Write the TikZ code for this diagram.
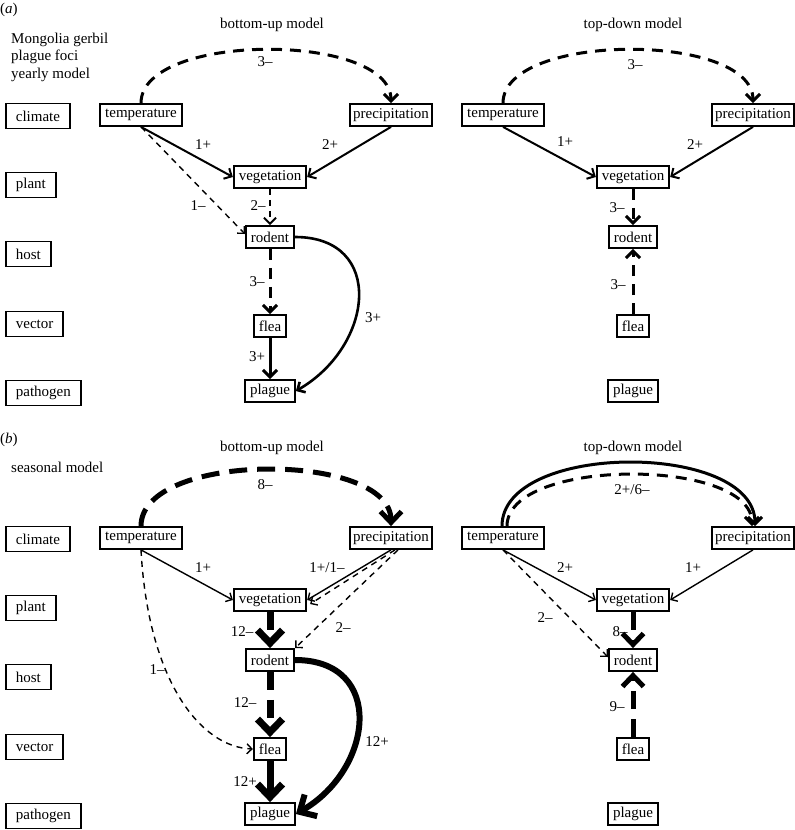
\documentclass[tikz,border=0pt]{standalone}
\usepackage{fontspec}
\setmainfont{Liberation Serif}
\usetikzlibrary{arrows.meta}

\tikzstyle{box}=[draw, line width=1.8pt, inner xsep=5pt, inner ysep=2pt, minimum height=22pt, fill=white]
\tikzstyle{pbox}=[box, inner xsep=3pt]
\tikzstyle{level}=[box, anchor=west, inner xsep=10pt, minimum height=25pt]
\tikzstyle{lab}=[inner sep=1pt]
\tikzstyle{w1}=[line width=1.4pt, -{Straight Barb[length=5pt,width=10pt]}]
\tikzstyle{w2}=[line width=2pt, -{Straight Barb[length=6pt,width=12pt]}]
\tikzstyle{w3}=[line width=3pt, -{Straight Barb[length=7pt,width=14pt]}]
\tikzstyle{w8}=[line width=5pt, -{Straight Barb[length=11pt,width=21pt]}]
\tikzstyle{w12}=[line width=7pt, -{Straight Barb[length=13pt,width=25pt]}]
\tikzstyle{neg1}=[dash pattern=on 6pt off 5pt]
\tikzstyle{neg3}=[dash pattern=on 11pt off 8pt]
\tikzstyle{neg8}=[dash pattern=on 18pt off 10pt]

\begin{document}
\begin{tikzpicture}[x=1pt, y=-1pt, every node/.style={font=\fontsize{15}{17.5}\selectfont}]
\useasboundingbox (0,0) rectangle (795,830);

% headings
\node[anchor=west, inner sep=0pt] (pa) at (0,10) {(\textit{a})};
\node[anchor=west, inner sep=0pt] (pb) at (0,440) {(\textit{b})};
\node (hd1) at (272,25) {bottom-up model};
\node (hd2) at (633,25) {top-down model};
\node (hd3) at (272,448) {bottom-up model};
\node (hd4) at (633,448) {top-down model};
\node[anchor=west, align=left, inner sep=0pt] (yearly) at (11,57) {Mongolia gerbil\\plague foci\\yearly model};
\node[anchor=west, inner sep=0pt] (seasonal) at (11,467) {seasonal model};

\foreach \lvl/\y in {climate/116, plant/185, host/254, vector/324, pathogen/393} {
  \node[level] (\lvl1) at (5,\y) {\lvl};
  \node[level] (\lvl2) at (5,\y+423) {\lvl};
}

% (a) bottom-up
\node[box] (t1) at (141,115) {temperature};
\node[pbox] (p1) at (391,115) {precipitation};
\node[box] (v1) at (270,177) {vegetation};
\node[box] (r1) at (270,237) {rodent};
\node[box] (f1) at (270,326) {flea};
\node[box] (q1) at (270,391) {plague};

\draw[w3,neg3] (t1.north) to[out=90,in=90,looseness=.73] (p1.north);
\draw[w2] (t1.south) -- (v1.west);
\draw[w2] (p1.south) -- (v1.east);
\draw[w1,neg1] (t1.south) -- ([yshift=3pt]r1.west);
\draw[w2,neg1] (v1) -- (r1);
\draw[w3,neg3] (r1) -- (f1);
\draw[w3] (f1) -- (q1);
\draw[w2, line width=2.6pt] (r1.east) to[out=0,in=30,looseness=1.5] (q1.east);

\node[lab] (a1) at (265,62) {3–};
\node[lab] (a2) at (203,145) {1+};
\node[lab] (a3) at (330,145) {2+};
\node[lab] (a4) at (198,206) {1–};
\node[lab] (a5) at (258,206) {2–};
\node[lab] (a6) at (257,282) {3–};
\node[lab] (a7) at (257,357) {3+};
\node[lab] (a8) at (373,318) {3+};

% (a) top-down
\node[box] (t2) at (503,115) {temperature};
\node[pbox] (p2) at (753,115) {precipitation};
\node[box] (v2) at (633,177) {vegetation};
\node[box] (r2) at (633,237) {rodent};
\node[box] (f2) at (633,326) {flea};
\node[box] (q2) at (633,391) {plague};

\draw[w3,neg3] (t2.north) to[out=90,in=90,looseness=.73] (p2.north);
\draw[w2] (t2.south) -- (v2.west);
\draw[w2] (p2.south) -- (v2.east);
\draw[w3,neg3] (v2) -- (r2);
\draw[w3,neg3] (f2) -- (r2);

\node[lab] (b1) at (635,65) {3–};
\node[lab] (b2) at (565,142) {1+};
\node[lab] (b3) at (695,145) {2+};
\node[lab] (b4) at (617,208) {3–};
\node[lab] (b5) at (618,285) {3–};

% (b) bottom-up
\node[box] (t3) at (141,538) {temperature};
\node[pbox] (p3) at (391,538) {precipitation};
\node[box] (v3) at (270,600) {vegetation};
\node[box] (r3) at (270,660) {rodent};
\node[box] (f3) at (270,749) {flea};
\node[box] (q3) at (270,814) {plague};

\draw[w8,neg8] (t3.north) to[out=90,in=90,looseness=.77] (p3.north);
\draw[w1] (t3.south) -- (v3.west);
\draw[w1] (p3.south) -- (v3.east);
\draw[w1,neg1] ([xshift=4pt]p3.south) -- ([shift={(3pt,-4pt)}]v3.east);
\draw[w1,neg1] ([xshift=7pt]p3.south) -- (r3.north east);
\draw[w1,neg1] (t3.south) .. controls (148,680) and (200,747) .. (f3.west);
\draw[w12,neg8] (v3) -- (r3);
\draw[w12,neg8] (r3) -- (f3);
\draw[w12] (f3) -- (q3);
\draw[w12, line width=6pt] (r3.east) to[out=0,in=30,looseness=1.5] (q3.east);

\node[lab] (c1) at (265,485) {8–};
\node[lab] (c2) at (203,568) {1+};
\node[lab] (c3) at (327,568) {1+/1–};
\node[lab] (c4) at (343,628) {2–};
\node[lab] (c5) at (157,670) {1–};
\node[lab] (c6) at (242,632) {12–};
\node[lab] (c7) at (245,703) {12–};
\node[lab] (c8) at (245,782) {12+};
\node[lab] (c9) at (377,742) {12+};

% (b) top-down
\node[box] (t4) at (503,538) {temperature};
\node[pbox] (p4) at (753,538) {precipitation};
\node[box] (v4) at (633,600) {vegetation};
\node[box] (r4) at (633,660) {rodent};
\node[box] (f4) at (633,749) {flea};
\node[box] (q4) at (633,814) {plague};

\draw[w3] ([xshift=-1pt]t4.north) to[out=90,in=90,looseness=.86] ([xshift=2pt]p4.north);
\draw[w3,neg3] ([xshift=4pt]t4.north) to[out=90,in=90,looseness=.72] ([xshift=-1pt]p4.north);
\draw[w1] (t4.south) -- (v4.west);
\draw[w1] (p4.south) -- (v4.east);
\draw[w1,neg1] (t4.south) -- ([yshift=3pt]r4.west);
\draw[w8,neg8] (v4) -- (r4);
\draw[w8,neg8] (f4) -- (r4);

\node[lab] (d1) at (632,490) {2+/6–};
\node[lab] (d2) at (565,568) {2+};
\node[lab] (d3) at (693,568) {1+};
\node[lab] (d4) at (545,618) {2–};
\node[lab] (d5) at (620,632) {8–};
\node[lab] (d6) at (617,707) {9–};
\end{tikzpicture}
\end{document}
